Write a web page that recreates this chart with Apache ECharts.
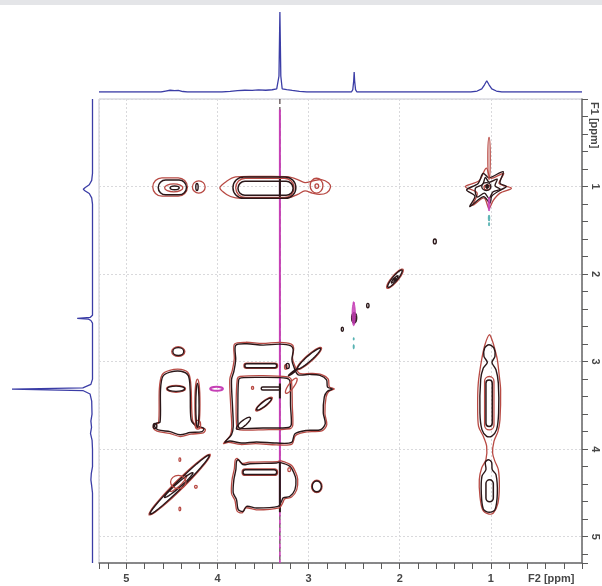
<!DOCTYPE html>
<html>
<head>
<meta charset="utf-8">
<title>COSY</title>
<script src="https://cdn.jsdelivr.net/npm/echarts@6/dist/echarts.min.js"></script>
<style>
  html, body { margin: 0; padding: 0; background: #ffffff; }
  #chart { width: 602px; height: 586px; }
</style>
</head>
<body>
<div id="chart"></div>
<script>
// ---------------- 1D projections ----------------
// F2 (horizontal) projection: [ppm, relative intensity]
const f2Projection = [
  [5.30, 0], [4.62, 0], [4.57, 0.012], [4.52, 0.022], [4.47, 0.018], [4.43, 0.02], [4.38, 0.006], [4.33, 0],
  [3.95, 0], [3.86, 0.008], [3.78, 0.018], [3.70, 0.022], [3.62, 0.02], [3.55, 0.026], [3.47, 0.022],
  [3.40, 0.028], [3.35, 0.04], [3.325, 0.2], [3.315, 1.0], [3.305, 0.2], [3.29, 0.04], [3.24, 0.03],
  [3.18, 0.02], [3.10, 0.008], [3.02, 0],
  [2.53, 0], [2.515, 0.03], [2.505, 0.14], [2.50, 0.25], [2.495, 0.14], [2.485, 0.03], [2.47, 0],
  [1.22, 0], [1.15, 0.012], [1.10, 0.04], [1.07, 0.09], [1.045, 0.14], [1.02, 0.09], [0.99, 0.04],
  [0.94, 0.012], [0.88, 0], [0, 0]
];
// F1 (vertical) projection: [relative intensity, ppm]
const f1Projection = [
  [0, 0], [0, 0.85], [0.01, 0.93], [0.04, 0.98], [0.09, 1.01], [0.115, 1.03], [0.09, 1.05], [0.04, 1.08],
  [0.01, 1.13], [0, 1.2],
  [0, 2.47], [0.03, 2.495], [0.19, 2.505], [0.05, 2.515], [0.02, 2.53], [0, 2.56],
  [0, 3.2], [0.02, 3.26], [0.12, 3.30], [1.0, 3.315], [0.12, 3.33], [0.03, 3.37], [0.01, 3.45],
  [0.006, 3.6], [0.02, 3.68], [0.012, 3.75], [0.025, 3.82], [0.005, 3.9], [0, 4.0],
  [0, 4.2], [0.015, 4.28], [0.02, 4.35], [0.01, 4.42], [0, 4.5], [0, 5.3]
];

// ---------------- 2D contours ----------------
// Ellipses: [F2 centre, F1 centre, F2 half-width, F1 half-width]
const darkRings = [
  [4.47, 1.015, 0.05, 0.022], [4.225, 1.005, 0.013, 0.04], [1.05, 1.0, 0.05, 0.045],
  [1.615, 1.627, 0.016, 0.028], [2.35, 2.36, 0.013, 0.025], [2.63, 2.63, 0.012, 0.022],
  [4.43, 2.885, 0.06, 0.045], [4.455, 3.31, 0.095, 0.03], [4.22, 3.50, 0.018, 0.25],
  [4.685, 3.735, 0.02, 0.03], [3.23, 3.05, 0.018, 0.03], [2.91, 4.425, 0.05, 0.062]
];
const redRings = [
  [4.48, 1.015, 0.10, 0.045], [4.205, 1.005, 0.07, 0.07], [2.913, 0.99, 0.07, 0.085],
  [2.91, 0.995, 0.02, 0.025], [1.04, 1.01, 0.035, 0.03], [1.02, 0.68, 0.013, 0.24],
  [4.43, 2.885, 0.072, 0.055], [4.455, 3.31, 0.105, 0.04], [4.22, 3.48, 0.028, 0.28],
  [4.215, 3.72, 0.03, 0.05], [3.615, 3.30, 0.012, 0.016], [3.213, 4.234, 0.015, 0.022],
  [2.91, 4.425, 0.058, 0.07], [4.413, 4.12, 0.01, 0.02], [4.237, 4.43, 0.015, 0.016],
  [4.413, 4.683, 0.01, 0.02], [4.43, 4.375, 0.085, 0.075], [3.25, 3.06, 0.014, 0.025]
];
// Elongated bands: [F2 start, F1 start, F2 end, F1 end]
const darkBands = [
  [4.65, 0.925, 4.34, 1.095], [3.83, 0.89, 3.14, 1.135], [3.775, 0.94, 3.17, 1.10],
  [3.70, 3.024, 3.35, 3.07], [3.52, 3.29, 3.31, 3.325], [3.72, 4.235, 3.35, 4.29],
  [1.054, 3.21, 0.985, 3.74], [1.054, 4.35, 0.973, 4.6]
];
const redBands = [
  [4.71, 0.90, 4.33, 1.11], [3.80, 0.905, 3.16, 1.125], [1.069, 3.17, 0.966, 3.78],
  [3.73, 4.225, 3.34, 4.30], [3.71, 3.018, 3.34, 3.078]
];
// Diagonal ridges: [F2 a, F1 a, F2 b, F1 b, half-width in ppm]
const darkRidges = [
  [2.13, 2.15, 1.975, 1.955, 0.028], [2.87, 2.85, 3.12, 3.08, 0.03], [3.12, 3.08, 3.22, 3.16, 0.008],
  [3.57, 3.55, 3.41, 3.42, 0.025], [3.79, 3.77, 3.64, 3.64, 0.03], [4.74, 4.74, 4.09, 4.07, 0.04],
  [4.58, 4.55, 4.27, 4.27, 0.025], [2.09, 2.10, 2.02, 2.02, 0.012]
];
const redRidges = [
  [2.14, 2.16, 1.965, 1.945, 0.036], [2.86, 2.84, 3.13, 3.09, 0.038], [3.25, 3.36, 3.13, 3.19, 0.03],
  [3.58, 3.56, 3.40, 3.41, 0.03], [4.75, 4.75, 4.08, 4.06, 0.05], [4.52, 4.48, 4.34, 4.30, 0.03]
];
// Irregular contour outlines: lists of [F2, F1]
const starDark = [[1.266, 1.038], [1.14, 0.965], [1.085, 0.85], [1.02, 0.9], [0.865, 0.83], [0.90, 0.96],
  [0.83, 1.0], [0.895, 1.04], [0.99, 1.11], [1.01, 1.19], [1.08, 1.115], [1.23, 1.228], [1.175, 1.11]];
const starDarkInner = [[1.17, 1.02], [1.09, 0.975], [1.06, 0.895], [1.02, 0.95], [0.93, 0.915], [0.955, 0.99],
  [0.895, 1.03], [0.975, 1.06], [1.02, 1.135], [1.07, 1.075], [1.15, 1.12]];
const starRed = [[1.28, 1.0], [1.13, 0.935], [1.05, 0.79], [1.00, 0.905], [0.86, 0.85], [0.91, 0.965],
  [0.775, 1.02], [0.90, 1.075], [0.975, 1.16], [1.02, 1.25], [1.075, 1.13], [1.20, 1.215], [1.15, 1.075]];
const methylUpper = [[1.021, 2.807], [0.966, 2.845], [0.955, 2.94], [0.988, 3.009], [0.944, 3.093],
  [0.918, 3.245], [0.915, 3.587], [0.937, 3.777], [0.992, 3.853], [1.046, 3.853], [1.098, 3.777],
  [1.12, 3.587], [1.112, 3.207], [1.083, 3.073], [1.039, 3.009], [1.076, 2.94], [1.068, 2.845]];
const methylLower = [[1.028, 4.12], [0.992, 4.15], [0.985, 4.234], [0.944, 4.291], [0.929, 4.5],
  [0.955, 4.691], [1.017, 4.721], [1.083, 4.683], [1.105, 4.5], [1.098, 4.31], [1.054, 4.234], [1.061, 4.15]];
const methylOuter = [[1.017, 2.693], [0.981, 2.769], [0.955, 2.864], [0.929, 2.978], [0.907, 3.169],
  [0.893, 3.321], [0.900, 3.663], [0.922, 3.796], [0.966, 3.91], [0.981, 4.044], [0.955, 4.139],
  [0.918, 4.234], [0.907, 4.424], [0.922, 4.615], [0.973, 4.729], [1.028, 4.74], [1.090, 4.691],
  [1.12, 4.538], [1.127, 4.348], [1.101, 4.215], [1.054, 4.12], [1.046, 3.968], [1.083, 3.853],
  [1.135, 3.739], [1.145, 3.511], [1.138, 3.245], [1.101, 2.978], [1.065, 2.807]];
const ringB = [[3.974, 1.015], [3.90, 0.94], [3.80, 0.89], [3.50, 0.885], [3.22, 0.89], [3.12, 0.92],
  [3.04, 0.955], [2.95, 0.935], [2.86, 0.92], [2.78, 0.96], [2.76, 1.01], [2.80, 1.07], [2.88, 1.09],
  [2.96, 1.075], [3.04, 1.05], [3.12, 1.09], [3.22, 1.13], [3.50, 1.135], [3.80, 1.13], [3.90, 1.09]];
const blockE = [[4.60, 3.17], [4.52, 3.12], [4.40, 3.11], [4.32, 3.16], [4.30, 3.32], [4.29, 3.66],
  [4.24, 3.73], [4.15, 3.76], [4.17, 3.80], [4.30, 3.81], [4.41, 3.835], [4.52, 3.80], [4.65, 3.78],
  [4.69, 3.74], [4.67, 3.70], [4.63, 3.69], [4.625, 3.32]];
const blockF = [[3.80, 2.815], [3.68, 2.796], [3.50, 2.811], [3.315, 2.80], [3.194, 2.82], [3.169, 2.864],
  [3.183, 2.978], [3.161, 3.062], [3.114, 3.15], [2.986, 3.146], [2.876, 3.157], [2.803, 3.207],
  [2.792, 3.29], [2.737, 3.313], [2.796, 3.34], [2.828, 3.405], [2.839, 3.587], [2.817, 3.709],
  [2.869, 3.778], [3.022, 3.785], [3.15, 3.823], [3.187, 3.922], [3.352, 3.93], [3.571, 3.918],
  [3.736, 3.93], [3.864, 3.907], [3.919, 3.922], [3.846, 3.834], [3.827, 3.74], [3.835, 3.511],
  [3.846, 3.207], [3.82, 3.111], [3.80, 2.978]];
const innerF = [[3.74, 3.185], [3.50, 3.18], [3.24, 3.19], [3.205, 3.22], [3.198, 3.51], [3.19, 3.72],
  [3.22, 3.752], [3.50, 3.758], [3.745, 3.764], [3.772, 3.74], [3.776, 3.51], [3.768, 3.21]];
const blockI = [[3.772, 4.12], [3.718, 4.177], [3.644, 4.166], [3.352, 4.158], [3.315, 4.15],
  [3.205, 4.196], [3.161, 4.272], [3.139, 4.348], [3.15, 4.462], [3.205, 4.538], [3.279, 4.557],
  [3.297, 4.595], [3.334, 4.653], [3.571, 4.672], [3.681, 4.653], [3.718, 4.71], [3.772, 4.691],
  [3.791, 4.576], [3.827, 4.5], [3.82, 4.348], [3.798, 4.234], [3.791, 4.139]];

const darkOutlines = [starDark, starDarkInner, methylUpper, methylLower];
const redOutlines = [starRed, methylOuter, ringB];
const sharedOutlines = [blockE, blockF, innerF, blockI];

// Filled spots / artefacts: [F2, F1, F2 half-width, F1 half-width]
const darkSpots = [[1.04, 1.0, 0.018, 0.025], [2.50, 2.50, 0.03, 0.065], [2.055, 2.06, 0.02, 0.015]];
const magentaSpots = [[2.505, 2.46, 0.018, 0.13], [1.02, 1.2, 0.01, 0.08], [2.505, 2.33, 0.007, 0.015]];
const magentaRings = [[4.01, 3.31, 0.07, 0.022]];
const tealSpots = [[2.505, 2.83, 0.006, 0.025], [2.505, 2.74, 0.005, 0.015], [1.02, 1.36, 0.008, 0.035],
  [1.02, 1.43, 0.006, 0.02]];

// Residual water trace at F2 = 3.315 ppm: F1 spans
const hdoShift = 3.315;
const hdoFull = [0, 5.3];
const hdoMagenta = [0.12, 4.62];
const hdoMagentaTail = [4.62, 5.3];
const hdoDarkSpans = [[0.88, 1.14], [3.25, 3.42], [4.15, 4.72]];

// Axis ticks
const majorTicks = [1, 2, 3, 4, 5];

// ---------------- drawing ----------------
const INK = { dark: '#2b1719', red: '#b84a44', magenta: '#c640b6', teal: '#3fa7a8', blue: '#3b3da6' };
const chart = echarts.init(document.getElementById('chart'), null, { renderer: 'canvas' });

function ellipsePts(c, ux, uy, a, b) {
  const nx = -uy, ny = ux, pts = [];
  for (let k = 0; k < 36; k++) {
    const t = k / 36 * Math.PI * 2;
    const p = Math.cos(t) * a, q = Math.sin(t) * b;
    pts.push([c[0] + ux * p + nx * q, c[1] + uy * p + ny * q]);
  }
  return pts;
}
function grow(pts, d) {
  let cx = 0, cy = 0;
  pts.forEach(p => { cx += p[0]; cy += p[1]; });
  cx /= pts.length; cy /= pts.length;
  return pts.map(p => {
    const vx = p[0] - cx, vy = p[1] - cy, n = Math.hypot(vx, vy) || 1;
    return [p[0] + vx / n * d, p[1] + vy / n * d];
  });
}
function base(name) {
  return { type: 'custom', name, xAxisIndex: 0, yAxisIndex: 0, clip: true, silent: true, animation: false, z: 5 };
}
function ringSeries(name, rows, color, lw, filled, opacity) {
  return Object.assign(base(name), {
    data: rows,
    renderItem(params, api) {
      const c = api.coord([api.value(0), api.value(1)]);
      const s = api.size([api.value(2) * 2, api.value(3) * 2], [api.value(0), api.value(1)]);
      return {
        type: 'ellipse',
        shape: { cx: c[0], cy: c[1], rx: s[0] / 2, ry: s[1] / 2 },
        style: { fill: filled ? color : 'none', stroke: color, lineWidth: lw, opacity: opacity == null ? 1 : opacity }
      };
    }
  });
}
function bandSeries(name, rows, color, lw) {
  return Object.assign(base(name), {
    data: rows,
    renderItem(params, api) {
      const p1 = api.coord([api.value(0), api.value(1)]);
      const p2 = api.coord([api.value(2), api.value(3)]);
      const x = Math.min(p1[0], p2[0]), y = Math.min(p1[1], p2[1]);
      const w = Math.abs(p2[0] - p1[0]), h = Math.abs(p2[1] - p1[1]);
      return {
        type: 'rect',
        shape: { x, y, width: w, height: h, r: Math.min(w, h) / 2 },
        style: { fill: 'none', stroke: color, lineWidth: lw }
      };
    }
  });
}
function ridgeSeries(name, rows, color, lw) {
  return Object.assign(base(name), {
    data: rows,
    renderItem(params, api) {
      const p1 = api.coord([api.value(0), api.value(1)]);
      const p2 = api.coord([api.value(2), api.value(3)]);
      const hw = api.size([api.value(4), api.value(4)], [api.value(0), api.value(1)]);
      const w = (hw[0] + hw[1]) / 2;
      const dx = p2[0] - p1[0], dy = p2[1] - p1[1], L = Math.hypot(dx, dy) / 2;
      const c = [(p1[0] + p2[0]) / 2, (p1[1] + p2[1]) / 2];
      return {
        type: 'polygon',
        shape: { points: ellipsePts(c, dx / (2 * L), dy / (2 * L), L, w) },
        style: { fill: 'none', stroke: color, lineWidth: lw }
      };
    }
  });
}
function outlineSeries(name, shapes, color, lw, offset) {
  return Object.assign(base(name), {
    data: shapes.map((s, i) => [s[0][0], s[0][1], i]),
    renderItem(params, api) {
      const shape = shapes[api.value(2)];
      let pts = shape.map(p => api.coord(p));
      if (offset) pts = grow(pts, offset);
      return {
        type: 'polygon',
        shape: { points: pts, smooth: 0.3 },
        style: { fill: 'none', stroke: color, lineWidth: lw }
      };
    }
  });
}
function hdoLine(name, span, color, lw, dashed, z) {
  return {
    type: 'line', name, xAxisIndex: 0, yAxisIndex: 0, symbol: 'none', silent: true, animation: false, z,
    data: [[hdoShift, span[0]], [hdoShift, span[1]]],
    lineStyle: { color, width: lw, type: dashed ? [5, 3] : 'solid' }
  };
}

const labelFont = { color: '#474747', fontSize: 11, fontWeight: 'bold', fontFamily: 'Liberation Sans, Arial, sans-serif' };
const isMajor = v => majorTicks.some(t => Math.abs(t - v) < 1e-6);
const fmt = v => isMajor(v) ? String(Math.round(v)) : '';

const series = [
  hdoLine('hdo', hdoFull, INK.dark, 1, true, 2),
  hdoLine('hdo-m', hdoMagenta, INK.magenta, 2, false, 3),
  hdoLine('hdo-m2', hdoMagentaTail, INK.magenta, 1.6, true, 3),
  ...hdoDarkSpans.map((s, i) => hdoLine('hdo-d' + i, s, INK.dark, 2, false, 4)),
  outlineSeries('shared-red', sharedOutlines, INK.red, 1.3, 1.8),
  outlineSeries('shared-dark', sharedOutlines, INK.dark, 1.4, 0),
  outlineSeries('red-outlines', redOutlines, INK.red, 1.3, 0),
  outlineSeries('dark-outlines', darkOutlines, INK.dark, 1.4, 0),
  bandSeries('red-bands', redBands, INK.red, 1.3),
  bandSeries('dark-bands', darkBands, INK.dark, 1.5),
  ridgeSeries('red-ridges', redRidges, INK.red, 1.3),
  ridgeSeries('dark-ridges', darkRidges, INK.dark, 1.4),
  ringSeries('red-rings', redRings, INK.red, 1.3, false),
  ringSeries('dark-rings', darkRings, INK.dark, 1.4, false),
  ringSeries('dark-spots', darkSpots, INK.dark, 1, true),
  ringSeries('magenta-spots', magentaSpots, INK.magenta, 1, true, 0.85),
  ringSeries('magenta-rings', magentaRings, INK.magenta, 2, false),
  ringSeries('teal-spots', tealSpots, INK.teal, 1, true, 0.8),
  {
    type: 'line', name: 'F2 projection', xAxisIndex: 2, yAxisIndex: 2, symbol: 'none', silent: true,
    animation: false, data: f2Projection, lineStyle: { color: INK.blue, width: 1.3 }
  },
  {
    type: 'line', name: 'F1 projection', xAxisIndex: 3, yAxisIndex: 3, symbol: 'none', silent: true,
    animation: false, data: f1Projection, lineStyle: { color: INK.blue, width: 1.3 }
  }
];

const option = {
  backgroundColor: '#ffffff',
  animation: false,
  grid: [
    { left: 99, right: 20, top: 99, bottom: 23, show: true, borderColor: '#c6c7d2', borderWidth: 1, outerBoundsMode: 'none' },
    { left: 99, right: 20, top: 12, height: 80, outerBoundsMode: 'none' },
    { left: 12, width: 80.5, top: 99, bottom: 23, outerBoundsMode: 'none' }
  ],
  xAxis: [
    {
      gridIndex: 0, type: 'value', min: 0, max: 5.3, inverse: true, interval: 0.2, position: 'bottom',
      axisLine: { show: true, onZero: false, lineStyle: { color: '#6b6b6b', width: 1.5 } },
      axisTick: { show: true, length: 6, lineStyle: { color: '#5a5a5a', width: 1 } },
      axisLabel: Object.assign({ formatter: fmt, margin: 10, showMinLabel: true, showMaxLabel: true }, labelFont),
      splitLine: { show: false }
    },
    {
      gridIndex: 0, type: 'value', min: 0, max: 5.3, inverse: true, interval: 1, position: 'bottom',
      axisLine: { show: false }, axisTick: { show: false }, axisLabel: { show: false },
      splitLine: { show: true, lineStyle: { color: '#d9d9dc', width: 1, type: [2, 2] } }
    },
    { gridIndex: 1, type: 'value', min: 0, max: 5.3, inverse: true, show: false },
    { gridIndex: 2, type: 'value', min: 0, max: 1, inverse: true, show: false }
  ],
  yAxis: [
    {
      gridIndex: 0, type: 'value', min: 0, max: 5.3, inverse: true, interval: 0.2, position: 'right',
      axisLine: { show: true, onZero: false, lineStyle: { color: '#6b6b6b', width: 1.5 } },
      axisTick: { show: true, length: 6, lineStyle: { color: '#5a5a5a', width: 1 } },
      axisLabel: Object.assign({ formatter: fmt, margin: 8, rotate: -90 }, labelFont),
      splitLine: { show: false }
    },
    {
      gridIndex: 0, type: 'value', min: 0, max: 5.3, inverse: true, interval: 1, position: 'right',
      axisLine: { show: false }, axisTick: { show: false }, axisLabel: { show: false },
      splitLine: { show: true, lineStyle: { color: '#d9d9dc', width: 1, type: [2, 2] } }
    },
    { gridIndex: 1, type: 'value', min: 0, max: 1, show: false },
    { gridIndex: 2, type: 'value', min: 0, max: 5.3, inverse: true, show: false }
  ],
  graphic: [
    { type: 'rect', left: 0, top: 0, shape: { width: 602, height: 5 }, style: { fill: '#e4e5e8' }, silent: true },
    { type: 'text', x: 528, y: 573, style: { text: 'F2 [ppm]', fill: '#474747', fontSize: 11, fontWeight: 'bold', fontFamily: 'Liberation Sans, Arial, sans-serif' } },
    { type: 'text', x: 600, y: 102, rotation: -Math.PI / 2, style: { text: 'F1 [ppm]', fill: '#474747', fontSize: 11, fontWeight: 'bold', fontFamily: 'Liberation Sans, Arial, sans-serif' } }
  ],
  series
};
chart.setOption(option);
</script>
</body>
</html>
